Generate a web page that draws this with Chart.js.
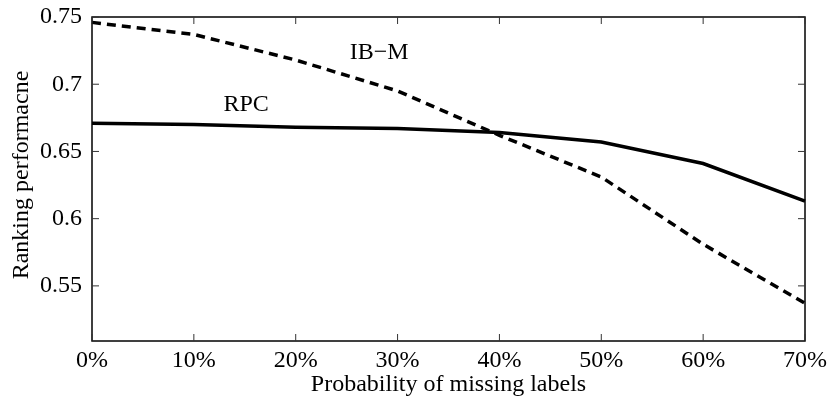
<!DOCTYPE html>
<html>
<head>
<meta charset="utf-8">
<script src="https://cdn.jsdelivr.net/npm/chart.js@4/dist/chart.umd.min.js"></script>
<style>
  html, body { margin: 0; padding: 0; background: #fff; }
  #wrap { width: 827px; height: 396px; position: relative; }
</style>
</head>
<body>
<div id="wrap"><canvas id="grafica"></canvas></div>
<script>
// datos
const etiquetasX = ['0%', '10%', '20%', '30%', '40%', '50%', '60%', '70%'];
const valoresRPC = [0.671, 0.670, 0.668, 0.667, 0.664, 0.657, 0.641, 0.613];
const valoresIBM = [0.746, 0.737, 0.718, 0.695, 0.662, 0.631, 0.581, 0.537];
const ticksY = [0.55, 0.6, 0.65, 0.7, 0.75];
const rangoY = [0.509, 0.75];
// textos dentro del grafico: [texto, indice x, valor y]
const textos = [['IB\u2212M', 2.53, 0.7234], ['RPC', 1.29, 0.6847]];

const fuente = "'Liberation Serif', 'Times New Roman', serif";

const marco = {
  id: 'marco',
  afterDraw(chart) {
    const ctx = chart.ctx;
    const a = chart.chartArea;
    const sx = chart.scales.x, sy = chart.scales.y;
    ctx.save();
    ctx.strokeStyle = '#000';
    ctx.lineWidth = 1.5;
    ctx.strokeRect(a.left, a.top, a.right - a.left, a.bottom - a.top);
    // ticks hacia adentro en los cuatro lados
    ctx.lineWidth = 1;
    ctx.strokeStyle = '#333';
    ctx.beginPath();
    etiquetasX.forEach((l, i) => {
      const px = sx.getPixelForValue(i);
      ctx.moveTo(px, a.bottom); ctx.lineTo(px, a.bottom - 7);
      ctx.moveTo(px, a.top); ctx.lineTo(px, a.top + 7);
    });
    ticksY.forEach(v => {
      const py = sy.getPixelForValue(v);
      ctx.moveTo(a.left, py); ctx.lineTo(a.left + 7, py);
      ctx.moveTo(a.right, py); ctx.lineTo(a.right - 7, py);
    });
    ctx.stroke();
    // textos
    ctx.fillStyle = '#000';
    ctx.font = '24px ' + fuente;
    ctx.textBaseline = 'middle';
    ctx.textAlign = 'left';
    textos.forEach(t => {
      ctx.fillText(t[0], sx.getPixelForValue(t[1]), sy.getPixelForValue(t[2]));
    });
    // titulo eje y
    ctx.save();
    ctx.translate(22, (a.top + a.bottom) / 2 - 4);
    ctx.rotate(-Math.PI / 2);
    ctx.textAlign = 'center';
    ctx.fillText('Ranking performacne', 0, 0);
    ctx.restore();
    // titulo eje x
    ctx.textAlign = 'center';
    ctx.fillText('Probability of missing labels', (a.left + a.right) / 2, 385);
    ctx.restore();
  }
};

const ctx = document.getElementById('grafica').getContext('2d');
let myChart = new Chart(ctx, {
  type: 'line',
  data: {
    labels: etiquetasX,
    datasets: [
      {
        label: 'RPC',
        data: valoresRPC,
        borderColor: '#000',
        borderWidth: 3.5,
        pointRadius: 0,
        tension: 0
      },
      {
        label: 'IB-M',
        data: valoresIBM,
        borderColor: '#000',
        borderWidth: 3.5,
        borderDash: [9, 6],
        pointRadius: 0,
        tension: 0
      }
    ]
  },
  options: {
    responsive: true,
    maintainAspectRatio: false,
    animation: false,
    layout: { padding: { left: 0, right: 22, top: 17, bottom: 0 } },
    plugins: { legend: { display: false }, tooltip: { enabled: false } },
    scales: {
      x: {
        type: 'category',
        offset: false,
        grid: { display: false, drawTicks: false },
        border: { display: false },
        ticks: { color: '#000', font: { family: fuente, size: 24 }, padding: 5, maxRotation: 0, autoSkip: false },
        afterFit(scale) {
          scale.height = 55;
          scale.paddingLeft = 0;
          scale.paddingRight = 0;
        }
      },
      y: {
        min: rangoY[0],
        max: rangoY[1],
        grid: { display: false, drawTicks: false },
        border: { display: false },
        ticks: {
          color: '#000',
          font: { family: fuente, size: 24 },
          padding: 10,
          callback: v => String(Math.round(v * 100) / 100)
        },
        afterBuildTicks(scale) { scale.ticks = ticksY.map(v => ({ value: v })); },
        afterFit(scale) {
          scale.width = 92;
          scale.paddingTop = 0;
          scale.paddingBottom = 0;
        }
      }
    }
  },
  plugins: [marco]
});
</script>
</body>
</html>
